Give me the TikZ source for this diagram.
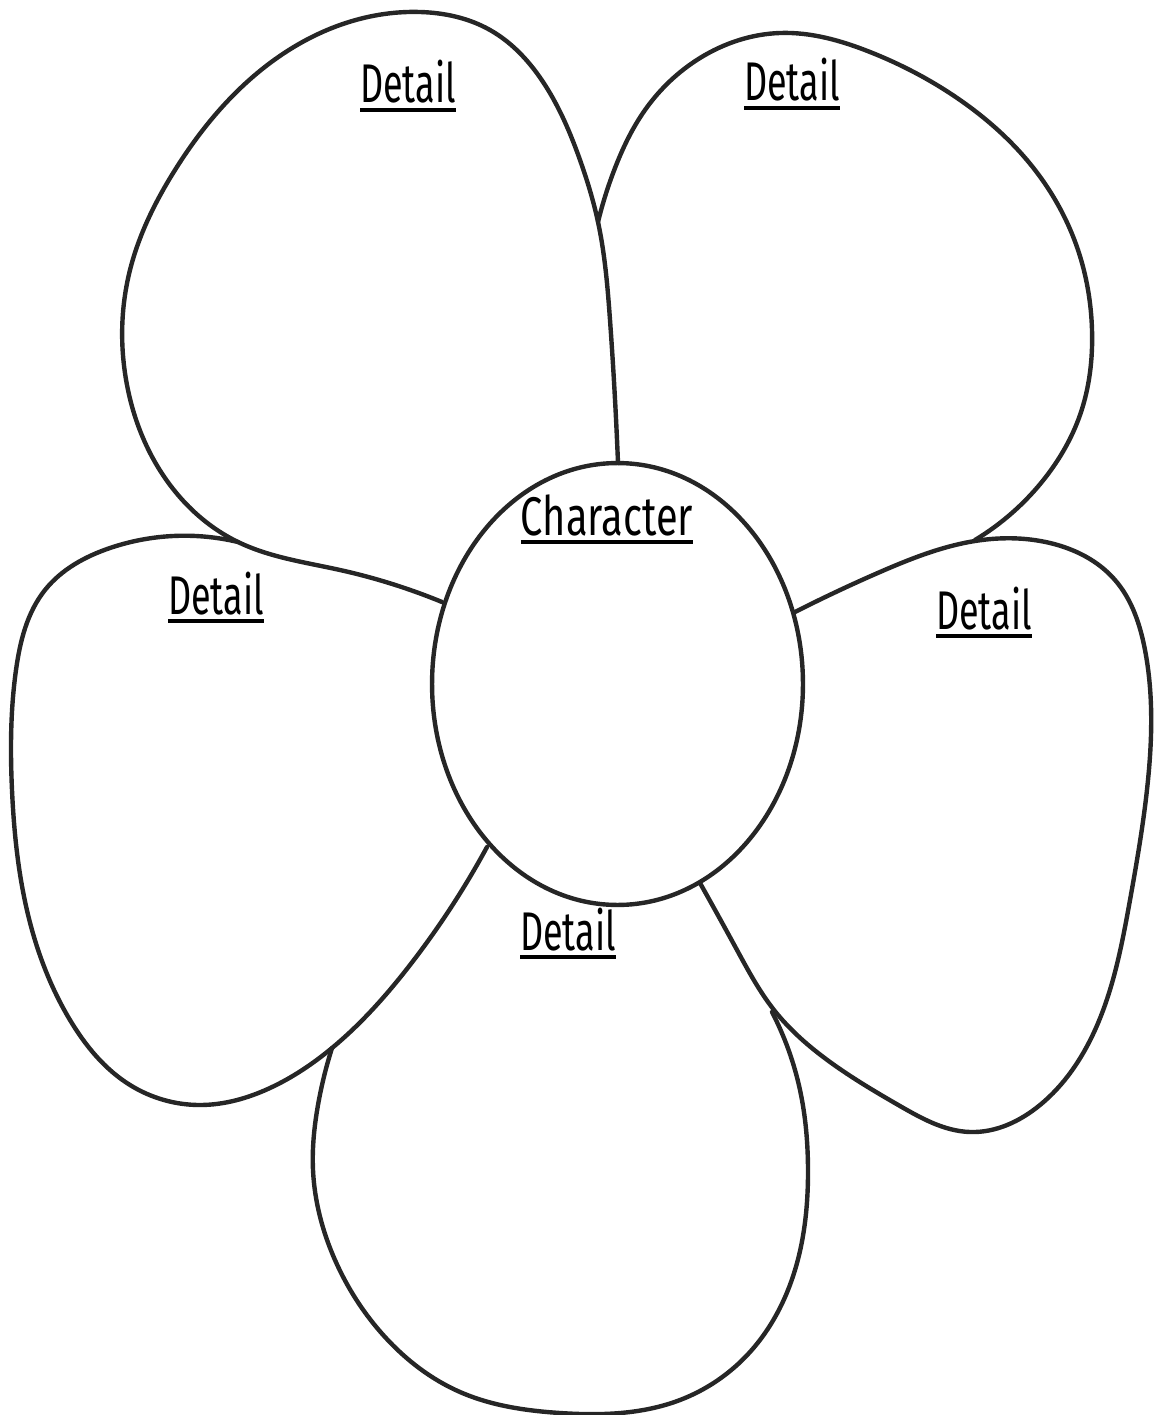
\documentclass[tikz,border=0pt]{standalone}
\usepackage{fontspec}
\setmainfont{Fira Sans}
\usetikzlibrary{shapes.geometric,hobby}
\newcommand\ulabel[2][0.66]{\scalebox{#1}[1]{\fontsize{31}{31}\selectfont\vtop{\hbox{#2}\kern2.5pt\hrule height 2.4pt}}}
\tikzset{
  petal/.style={draw=black!85, line width=0.088cm, line cap=round, line join=round},
  lbl/.style={inner sep=0pt, anchor=base}
}
\begin{document}
\begin{tikzpicture}[x=0.02cm, y=-0.02cm]
\useasboundingbox (0,0) rectangle (1153,1415);
% top-right petal
\draw[petal] (598,222) to[curve through={(615,168) (645,110) (700,58) (780,33) (870,52) (960,100) (1035,170) (1078,250) (1092,330) (1080,415) (1045,478)}] (975,540);
% top-left petal
\draw[petal] (442,602) to[curve through={(340,570) (238,542) (165,478) (127,385) (130,270) (175,170) (255,75) (340,25) (420,12) (490,30) (545,85) (580,160) (598,222) (610,320)}] (618,463);
% right petal
\draw[petal] (795,612) to[curve through={(880,572) (975,541) (1050,543) (1115,580) (1145,650) (1148,780) (1130,900) (1095,1030) (1040,1105) (970,1132) (900,1106) (830,1062) (774,1010) (737,950)}] (700,883);
% bottom petal
\draw[petal] (772,1012) to[curve through={(800,1090) (808,1170) (795,1270) (750,1352) (680,1400) (560,1413) (460,1392) (385,1337) (335,1260) (313,1170) (318,1105)}] (332,1048);
% left petal
\draw[petal] (487,847) to[curve through={(410,965) (332,1048) (270,1088) (200,1105) (130,1085) (70,1020) (32,930) (12,790) (16,670) (45,590) (110,548)}] (238,542);
% center
\node[petal, ellipse, minimum width=7.42cm, minimum height=8.84cm, inner sep=0pt] (center) at (617.5,684) {};
% labels
\node[lbl] (tl) at (408,103) {\ulabel{Detail}};
\node[lbl] (tr) at (792,101) {\ulabel{Detail}};
\node[lbl] (ch) at (607,535) {\ulabel[0.73]{Character}};
\node[lbl] (lf) at (216,614) {\ulabel{Detail}};
\node[lbl] (rt) at (984,629) {\ulabel{Detail}};
\node[lbl] (bt) at (568,950) {\ulabel{Detail}};
\end{tikzpicture}
\end{document}
